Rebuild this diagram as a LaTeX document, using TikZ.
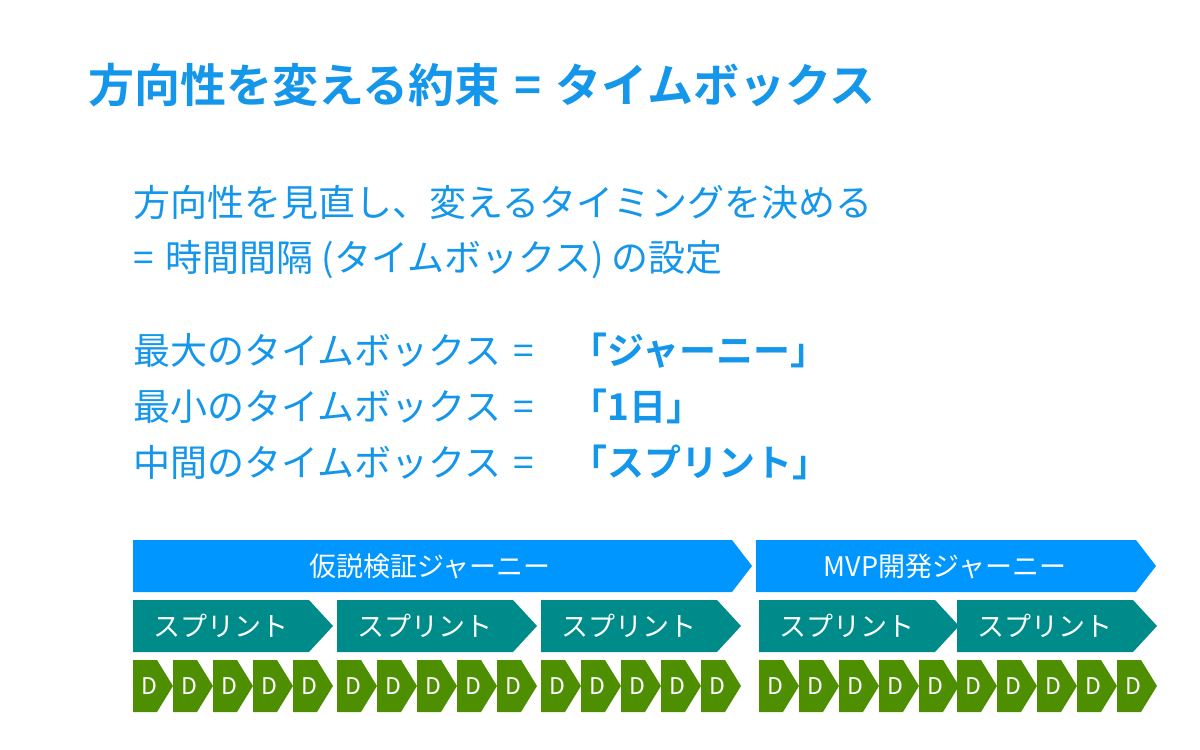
\documentclass[tikz,border=0pt]{standalone}
\usepackage{fontspec}
\setmainfont{Noto Sans CJK JP}
\newfontfamily\jpbold{Noto Sans CJK JP Bold}
\definecolor{titleblue}{RGB}{20,150,235}
\definecolor{journeyblue}{RGB}{0,150,255}
\definecolor{sprintteal}{RGB}{0,139,139}
\definecolor{daygreen}{RGB}{77,143,0}

\begin{document}
\begin{tikzpicture}[x=1pt,y=-1pt,
    txt/.style={anchor=base west, inner sep=0pt, text=titleblue, font=\fontsize{37}{44}\selectfont},
    bold/.style={txt, font=\jpbold\fontsize{37}{44}\selectfont},
    lbl/.style={text=white, inner sep=0pt, font=\fontsize{27}{32}\selectfont},
    dlbl/.style={text=white, inner sep=0pt, font=\fontsize{23}{28}\selectfont}
]
\useasboundingbox (0,0) rectangle (1200,750);

% Title
\node[txt, font=\jpbold\fontsize{46}{52}\selectfont] (title) at (88,102) {方向性を変える約束\hspace{14pt}=\hspace{14pt}タイムボックス};

% Body
\node[txt] (line1) at (133,216) {方向性を見直し、変えるタイミングを決める};
\node[txt] (line2) at (133,271) {=\hspace{12pt}時間間隔\hspace{8pt}(タイムボックス)\hspace{8pt}の設定};
\node[txt] (max) at (133,364) {最大のタイムボックス\hspace{12pt}=};
\node[txt] (min) at (133,420) {最小のタイムボックス\hspace{12pt}=};
\node[txt] (mid) at (133,476) {中間のタイムボックス\hspace{12pt}=};
\node[bold] (maxv) at (570,364) {「ジャーニー」};
\node[bold] (minv) at (570,420) {「1日」};
\node[bold] (midv) at (570,476) {「スプリント」};

% Journeys
\fill[journeyblue] (133,540) -- (732,540) -- (752,566) -- (732,592) -- (133,592) -- cycle;
\node[lbl] (j1) at (430,566) {仮説検証ジャーニー};
\fill[journeyblue] (756,540) -- (1136,540) -- (1156,566) -- (1136,592) -- (756,592) -- cycle;
\node[lbl] (j2) at (945,566) {MVP開発ジャーニー};

% Sprints
\foreach \x in {133,337,541,759,957} {
  \fill[sprintteal] (\x,600) -- (\x+176,600) -- (\x+200,626) -- (\x+176,652) -- (\x,652) -- cycle;
  \node[lbl] at (\x+88,626) {スプリント};
}

% Days
\foreach \g in {133,337,541,759,957} {
  \foreach \i in {0,...,4} {
    \pgfmathsetmacro{\xs}{\g+40*\i}
    \fill[daygreen] (\xs,660) -- (\xs+24,660) -- (\xs+40,686) -- (\xs+24,712) -- (\xs,712) -- cycle;
    \node[dlbl] at (\xs+16,686) {D};
  }
}
\end{tikzpicture}
\end{document}
